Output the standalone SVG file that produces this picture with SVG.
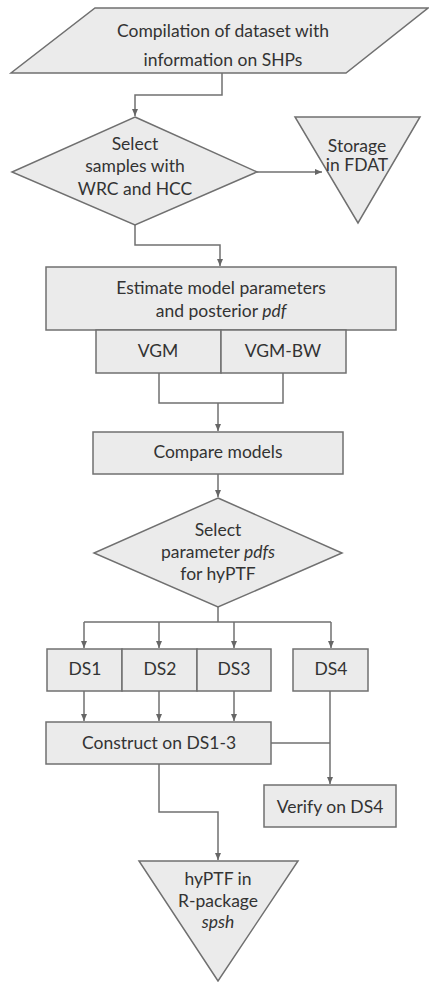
<svg xmlns="http://www.w3.org/2000/svg" width="429" height="982" viewBox="0 0 429 982">
<defs>
<marker id="ah" markerWidth="8" markerHeight="8" refX="7" refY="4" orient="auto" markerUnits="userSpaceOnUse">
<path d="M0,1 L7,4 L0,7 Z" fill="#666"/>
</marker>
<style>
.s{fill:#ebebeb;stroke:#707070;stroke-width:1.5}
.t{font-family:Lato,"Liberation Sans",sans-serif;font-size:17.5px;fill:#333;text-anchor:middle}
.c{fill:none;stroke:#707070;stroke-width:1.5}
.ca{fill:none;stroke:#707070;stroke-width:1.5;marker-end:url(#ah)}
</style>
</defs>
<rect width="429" height="982" fill="#fff"/>
<g id="connectors">
<path class="ca" d="M222,73 V95 H135 V116"/>
<path class="ca" d="M257,172 H322"/>
<path class="ca" d="M135,225 V245 H220 V266"/>
<path class="c" d="M159,373 V403 H283 V373"/>
<path class="ca" d="M218,403 V431"/>
<path class="ca" d="M218,474 V497"/>
<path class="c" d="M218,607 V622 M84,622 H331"/>
<path class="ca" d="M84,622 V648"/>
<path class="ca" d="M159,622 V648"/>
<path class="ca" d="M234,622 V648"/>
<path class="ca" d="M331,622 V648"/>
<path class="ca" d="M84,691 V721"/>
<path class="ca" d="M159,691 V721"/>
<path class="ca" d="M234,691 V721"/>
<path class="ca" d="M330,691 V784"/>
<path class="c" d="M271,743 H330"/>
<path class="ca" d="M159,764 V812 H218 V860"/>
</g>
<g id="compile">
<polygon class="s" points="95,8 428,8 346,73 11,73"/>
<text class="t" x="223" y="37">Compilation of dataset with</text>
<text class="t" x="223" y="66">information on SHPs</text>
</g>
<g id="select1">
<polygon class="s" points="135,117 257,172 135,225 12,172"/>
<text class="t" x="135" y="150">Select</text>
<text class="t" x="135" y="172">samples with</text>
<text class="t" x="135" y="195">WRC and HCC</text>
</g>
<g id="storage">
<polygon class="s" points="295,117 420,117 358,223"/>
<text class="t" x="357" y="152">Storage</text>
<text class="t" x="357" y="171">in FDAT</text>
</g>
<g id="estimate">
<rect class="s" x="46" y="267" width="350" height="63"/>
<text class="t" x="221" y="294">Estimate model parameters</text>
<text class="t" x="221" y="317">and posterior <tspan font-style="italic">pdf</tspan></text>
</g>
<g id="vgm">
<rect class="s" x="96" y="330" width="125" height="43"/>
<text class="t" x="158" y="357">VGM</text>
</g>
<g id="vgmbw">
<rect class="s" x="221" y="330" width="125" height="43"/>
<text class="t" x="283" y="357">VGM-BW</text>
</g>
<g id="compare">
<rect class="s" x="93" y="432" width="250" height="42"/>
<text class="t" x="218" y="458">Compare models</text>
</g>
<g id="select2">
<polygon class="s" points="218,498 342,553 218,607 94,553"/>
<text class="t" x="218" y="536">Select</text>
<text class="t" x="218" y="558">parameter <tspan font-style="italic">pdfs</tspan></text>
<text class="t" x="218" y="580">for hyPTF</text>
</g>
<g id="ds1">
<rect class="s" x="47" y="649" width="75" height="42"/>
<text class="t" x="85" y="675">DS1</text>
</g>
<g id="ds2">
<rect class="s" x="122" y="649" width="75" height="42"/>
<text class="t" x="160" y="675">DS2</text>
</g>
<g id="ds3">
<rect class="s" x="197" y="649" width="74" height="42"/>
<text class="t" x="234" y="675">DS3</text>
</g>
<g id="ds4">
<rect class="s" x="293" y="649" width="75" height="42"/>
<text class="t" x="331" y="675">DS4</text>
</g>
<g id="construct">
<rect class="s" x="46" y="722" width="225" height="42"/>
<text class="t" x="159" y="749">Construct on DS1-3</text>
</g>
<g id="verify">
<rect class="s" x="264" y="785" width="132" height="42"/>
<text class="t" x="330" y="813">Verify on DS4</text>
</g>
<g id="hyptf">
<polygon class="s" points="139,861 298,861 218,981"/>
<text class="t" x="218" y="885">hyPTF in</text>
<text class="t" x="218" y="907">R-package</text>
<text class="t" x="218" y="928" font-style="italic">spsh</text>
</g>
</svg>
